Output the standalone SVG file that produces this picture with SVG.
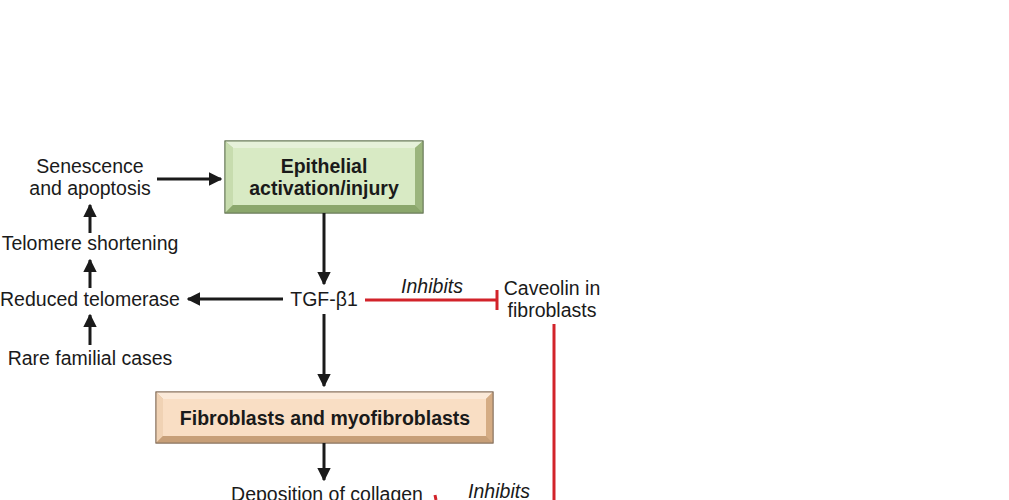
<svg xmlns="http://www.w3.org/2000/svg" width="1009" height="500" viewBox="0 0 1009 500">
<defs>
<style>
.t{font-family:"Liberation Sans",Arial,sans-serif;font-size:19.5px;fill:#1a1a1a;text-anchor:middle}
.b{font-weight:bold}
.i{font-style:italic}
.k{stroke:#1a1a1a;stroke-width:3;fill:none}
.r{stroke:#d2232a;stroke-width:3;fill:none}
</style>
<marker id="ah" viewBox="0 0 10 10" refX="9" refY="5" markerWidth="4.5" markerHeight="4.5" orient="auto-start-reverse" markerUnits="strokeWidth">
<path d="M0,0 L10,5 L0,10 Z" fill="#1a1a1a"/>
</marker>
</defs>
<rect width="1009" height="500" fill="#fff"/>

<g id="epithelial">
<rect x="225" y="141" width="198" height="72" fill="#a9c48a" stroke="#6b7d5a" stroke-width="1"/>
<polygon points="225,141 423,141 415,148 233,148" fill="#e6f1da"/>
<polygon points="225,141 233,148 233,205 225,213" fill="#c7dcae"/>
<polygon points="423,141 423,213 415,205 415,148" fill="#9bb57d"/>
<polygon points="225,213 423,213 415,205 233,205" fill="#8ba76c"/>
<rect x="233" y="148" width="182" height="57" fill="#d8eac4"/>
<rect x="225" y="141" width="198" height="72" fill="none" stroke="#6b7d5a" stroke-width="1"/>
<text class="t b" x="324" y="173">Epithelial</text>
<text class="t b" x="324" y="195">activation/injury</text>
</g>

<g id="fibroblasts">
<rect x="156" y="392" width="337" height="51" fill="#d9b48e" stroke="#8a7560" stroke-width="1"/>
<polygon points="156,392 493,392 486,399 163,399" fill="#fbe9d8"/>
<polygon points="156,392 163,399 163,436 156,443" fill="#f0d2b4"/>
<polygon points="493,392 493,443 486,436 486,399" fill="#d5ac84"/>
<polygon points="156,443 493,443 486,436 163,436" fill="#c79f78"/>
<rect x="163" y="399" width="323" height="37" fill="#f9dec4"/>
<rect x="156" y="392" width="337" height="51" fill="none" stroke="#8a7560" stroke-width="1"/>
<text class="t b" x="325" y="425">Fibroblasts and myofibroblasts</text>
</g>

<g id="senescence"><text class="t" x="90" y="173">Senescence</text><text class="t" x="90" y="195">and apoptosis</text></g>
<g id="telomere-shortening"><text class="t" x="90" y="250">Telomere shortening</text></g>
<g id="reduced-telomerase"><text class="t" x="90" y="306">Reduced telomerase</text></g>
<g id="rare-familial"><text class="t" x="90" y="365">Rare familial cases</text></g>
<g id="tgf"><text class="t" x="324" y="306">TGF-β1</text></g>
<g id="caveolin"><text class="t" x="552" y="295">Caveolin in</text><text class="t" x="552" y="317">fibroblasts</text></g>
<g id="deposition"><text class="t" x="327" y="501">Deposition of collagen</text></g>

<g id="connectors">
<line class="k" x1="157" y1="179" x2="221" y2="179" marker-end="url(#ah)"/>
<line class="k" x1="90" y1="233" x2="90" y2="205" marker-end="url(#ah)"/>
<line class="k" x1="90" y1="288" x2="90" y2="260" marker-end="url(#ah)"/>
<line class="k" x1="90" y1="345" x2="90" y2="315" marker-end="url(#ah)"/>
<line class="k" x1="283" y1="299" x2="188" y2="299" marker-end="url(#ah)"/>
<line class="k" x1="324" y1="213" x2="324" y2="284" marker-end="url(#ah)"/>
<line class="k" x1="324" y1="314" x2="324" y2="386" marker-end="url(#ah)"/>
<line class="k" x1="324" y1="443" x2="324" y2="480" marker-end="url(#ah)"/>
<line class="r" x1="365" y1="300" x2="497" y2="300"/>
<line class="r" x1="497" y1="290" x2="497" y2="310"/>
<text class="t i" x="432" y="293">Inhibits</text>
<line class="r" x1="554" y1="324" x2="554" y2="500"/>
<line class="r" x1="435" y1="495" x2="436" y2="500"/>
<text class="t i" x="499" y="498">Inhibits</text>
</g>
</svg>
